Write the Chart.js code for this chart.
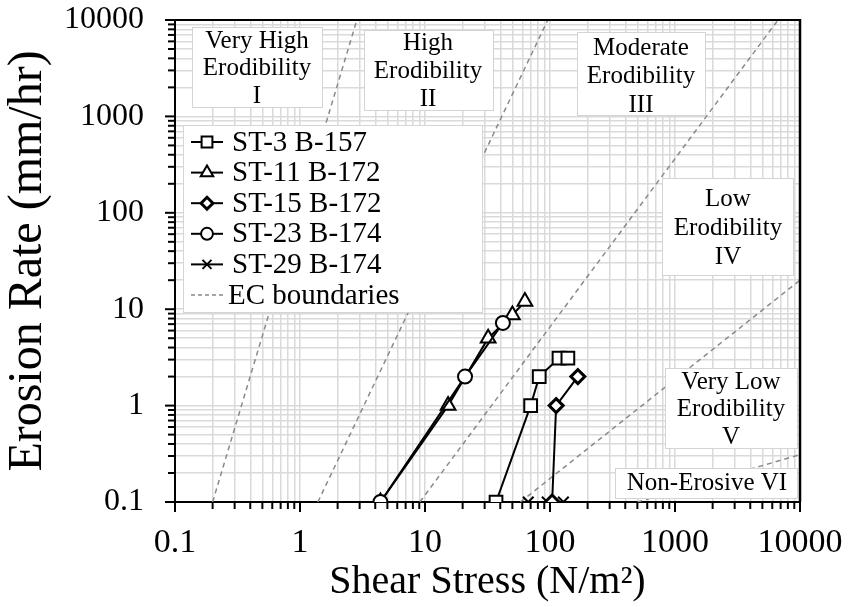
<!DOCTYPE html>
<html>
<head>
<meta charset="utf-8">
<script src="https://cdn.jsdelivr.net/npm/chart.js@4.4.0/dist/chart.umd.min.js"></script>
<style>
  html, body { margin: 0; padding: 0; background: #ffffff; }
  #wrap { width: 848px; height: 607px; }
</style>
</head>
<body>
<div id="wrap"><canvas id="chart" width="848" height="607"></canvas></div>
<script>
// ---- axis decades and their labels ----
const decadeValues = [0.1, 1, 10, 100, 1000, 10000];
const decadeLabels = ['0.1', '1', '10', '100', '1000', '10000'];

// ---- EFA test results: shear stress (N/m2) and erosion rate (mm/hr) ----
const seriesNames = ['ST-3 B-157', 'ST-11 B-172', 'ST-15 B-172', 'ST-23 B-174', 'ST-29 B-174'];
const st3Shear  = [37, 70, 82, 118, 139];
const st3Rate   = [0.1, 1, 2, 3.1, 3.1];
const st11Shear = [4.4, 15.3, 32, 50, 63];
const st11Rate  = [0.1, 1, 5, 8.7, 12];
const st15Shear = [104, 112, 167];
const st15Rate  = [0.1, 1, 2];
const st23Shear = [4.4, 20.9, 42];
const st23Rate  = [0.1, 2, 7.2];
const st29Shear = [67, 95, 128];
const st29Rate  = [0.1, 0.1, 0.1];

// ---- erosion category boundaries (straight lines in log-log space) ----
const boundaryName  = 'EC boundaries';
const boundaryShear = [[0.2, 2.85], [1.39, 96], [9.1, 6670], [58, 10000], [500, 10000]];
const boundaryRate  = [[0.1, 10000], [0.1, 10000], [0.1, 10000], [0.1, 20], [0.1, 0.31]];

// ---- erosion category names ----
const regionTexts = [
  ['Very High', 'Erodibility', 'I'],
  ['High', 'Erodibility', 'II'],
  ['Moderate', 'Erodibility', 'III'],
  ['Low', 'Erodibility', 'IV'],
  ['Very Low', 'Erodibility', 'V'],
  ['Non-Erosive VI']
];

// label boxes: [left, top, right, bottom, centre x, first line y, line step]
const regionBoxes = [
  [192, 27, 322, 107, 257, 41, 27.5],
  [364, 30, 493, 110, 428, 43, 28],
  [577, 32, 705, 115, 641, 48, 28.5],
  [662, 178, 793, 275, 728, 199, 29],
  [665, 368, 797, 448, 731, 382, 27.5],
  [615, 468, 797, 498, 707, 483, 0]
];

const FONT = "'Liberation Serif', 'Times New Roman', serif";
Chart.defaults.font.family = FONT;
Chart.defaults.color = '#000';

function toPoints(xs, ys) { return xs.map((x, i) => ({ x: x, y: ys[i] })); }

function allLogTicks(min, max) {
  const out = [];
  for (let e = Math.round(Math.log10(min)); e <= Math.round(Math.log10(max)); e++) {
    for (let m = 1; m <= 9; m++) {
      const v = parseFloat((m * Math.pow(10, e)).toPrecision(6));
      if (v >= min - 1e-9 && v <= max + 1e-9) out.push(v);
    }
  }
  return out;
}
function isDecade(v) {
  return decadeValues.some(d => Math.abs(Math.log10(d) - Math.log10(v)) < 1e-6);
}
function decadeLabel(v) {
  const i = decadeValues.findIndex(d => Math.abs(Math.log10(d) - Math.log10(v)) < 1e-6);
  return i >= 0 ? decadeLabels[i] : '';
}

const markerStyles = [
  { style: 'rect', radius: 9, width: 2 },
  { style: 'triangle', radius: 8.5, width: 2 },
  { style: 'rectRot', radius: 7, width: 3 },
  { style: 'circle', radius: 7, width: 2 },
  { style: 'crossRot', radius: 7.5, width: 2 }
];
const seriesData = [
  toPoints(st3Shear, st3Rate),
  toPoints(st11Shear, st11Rate),
  toPoints(st15Shear, st15Rate),
  toPoints(st23Shear, st23Rate),
  toPoints(st29Shear, st29Rate)
];
const seriesOrder = [0, 1, 0, -1, 0];

const datasets = seriesData.map((pts, i) => ({
  label: seriesNames[i],
  data: pts,
  showLine: true,
  borderColor: '#000',
  borderWidth: 2,
  backgroundColor: '#fff',
  pointStyle: markerStyles[i].style,
  pointRadius: markerStyles[i].radius,
  pointBorderWidth: markerStyles[i].width,
  pointBorderColor: '#000',
  pointBackgroundColor: '#fff',
  order: seriesOrder[i]
}));
boundaryShear.forEach((xs, i) => {
  datasets.push({
    label: boundaryName,
    data: toPoints(xs, boundaryRate[i]),
    showLine: true,
    borderColor: '#8a8a8a',
    borderWidth: 1.5,
    borderDash: [5, 4],
    pointRadius: 0,
    order: 10
  });
});

function drawMarker(ctx, style, x, y, r) {
  ctx.beginPath();
  if (style === 'rect') {
    const s = Math.SQRT1_2 * r;
    ctx.rect(x - s, y - s, 2 * s, 2 * s);
  } else if (style === 'triangle') {
    const w = r * Math.sqrt(3);
    ctx.moveTo(x, y - r);
    ctx.lineTo(x + w / 2, y + r / 2);
    ctx.lineTo(x - w / 2, y + r / 2);
    ctx.closePath();
  } else if (style === 'rectRot') {
    ctx.moveTo(x, y - r); ctx.lineTo(x + r, y); ctx.lineTo(x, y + r); ctx.lineTo(x - r, y); ctx.closePath();
  } else if (style === 'circle') {
    ctx.arc(x, y, r, 0, Math.PI * 2);
  } else if (style === 'crossRot') {
    const s = Math.SQRT1_2 * r;
    ctx.moveTo(x - s, y - s); ctx.lineTo(x + s, y + s);
    ctx.moveTo(x + s, y - s); ctx.lineTo(x - s, y + s);
    ctx.stroke();
    return;
  }
  ctx.fill();
  ctx.stroke();
}

// boxes with the category names, and the legend, drawn over the grid
const overlayPlugin = {
  id: 'overlays',
  afterDatasetsDraw(chart) {
    const ctx = chart.ctx;
    ctx.save();
    regionBoxes.forEach((b, i) => {
      ctx.fillStyle = '#fff';
      ctx.fillRect(b[0], b[1], b[2] - b[0], b[3] - b[1]);
      ctx.strokeStyle = '#d4d4d4';
      ctx.lineWidth = 1;
      ctx.strokeRect(b[0] + 0.5, b[1] + 0.5, b[2] - b[0], b[3] - b[1]);
      ctx.fillStyle = '#000';
      ctx.font = '25px ' + FONT;
      ctx.textAlign = 'center';
      ctx.textBaseline = 'middle';
      regionTexts[i].forEach((t, k) => ctx.fillText(t, b[4], b[5] + k * b[6]));
    });
    const lg = { left: 183, top: 125, right: 482, bottom: 312, rowY: 142, step: 30.6, lineX0: 191, lineX1: 223, textX: 232 };
    ctx.fillStyle = '#fff';
    ctx.fillRect(lg.left, lg.top, lg.right - lg.left, lg.bottom - lg.top);
    ctx.strokeStyle = '#d4d4d4';
    ctx.lineWidth = 1;
    ctx.strokeRect(lg.left + 0.5, lg.top + 0.5, lg.right - lg.left, lg.bottom - lg.top);
    ctx.font = '29px ' + FONT;
    ctx.textAlign = 'left';
    ctx.textBaseline = 'middle';
    seriesNames.forEach((name, i) => {
      const y = lg.rowY + i * lg.step;
      ctx.strokeStyle = '#000';
      ctx.lineWidth = 2;
      ctx.setLineDash([]);
      ctx.beginPath(); ctx.moveTo(lg.lineX0, y); ctx.lineTo(lg.lineX1, y); ctx.stroke();
      ctx.fillStyle = '#fff';
      ctx.lineWidth = markerStyles[i].width;
      drawMarker(ctx, markerStyles[i].style, (lg.lineX0 + lg.lineX1) / 2, y, markerStyles[i].radius * 0.85);
      ctx.fillStyle = '#000';
      ctx.fillText(name, lg.textX, y + 1);
    });
    const yb = lg.rowY + seriesNames.length * lg.step;
    ctx.strokeStyle = '#8a8a8a';
    ctx.lineWidth = 1.5;
    ctx.setLineDash([4, 3]);
    ctx.beginPath(); ctx.moveTo(lg.lineX0, yb); ctx.lineTo(lg.lineX1 + 2, yb); ctx.stroke();
    ctx.setLineDash([]);
    ctx.fillStyle = '#000';
    ctx.fillText(boundaryName, lg.textX - 4, yb + 1);
    ctx.restore();
  }
};

// plot frame and outward tick marks
const framePlugin = {
  id: 'frame',
  afterDraw(chart) {
    const ctx = chart.ctx;
    const a = chart.chartArea;
    const xs = chart.scales.x, ys = chart.scales.y;
    ctx.save();
    ctx.strokeStyle = '#000';
    ctx.lineWidth = 2;
    ctx.beginPath();
    ctx.moveTo(a.left, a.top); ctx.lineTo(a.right, a.top);
    ctx.stroke();
    ctx.lineWidth = 2.5;
    ctx.beginPath();
    ctx.moveTo(a.right, a.top - 1); ctx.lineTo(a.right, a.bottom);
    ctx.stroke();
    ctx.lineWidth = 2;
    xs.ticks.forEach(t => {
      const px = xs.getPixelForValue(t.value);
      const len = isDecade(t.value) ? 10 : 7;
      ctx.beginPath(); ctx.moveTo(px, a.bottom); ctx.lineTo(px, a.bottom + len); ctx.stroke();
    });
    ys.ticks.forEach(t => {
      const py = ys.getPixelForValue(t.value);
      const len = isDecade(t.value) ? 10 : 7;
      ctx.beginPath(); ctx.moveTo(a.left - len, py); ctx.lineTo(a.left, py); ctx.stroke();
    });
    ctx.restore();
  }
};

const gridOpts = { color: '#dadada', lineWidth: 1.5, drawTicks: false };

new Chart(document.getElementById('chart'), {
  type: 'scatter',
  data: { datasets: datasets },
  options: {
    responsive: false,
    animation: false,
    devicePixelRatio: 1,
    layout: { padding: { top: 20, right: 48, left: 0, bottom: 0 } },
    plugins: { legend: { display: false }, tooltip: { enabled: false } },
    scales: {
      x: {
        type: 'logarithmic',
        position: 'bottom',
        min: 0.1,
        max: 10000,
        afterBuildTicks: s => { s.ticks = allLogTicks(0.1, 10000).map(v => ({ value: v })); },
        afterFit: s => { s.height = 105; s.paddingLeft = 0; s.paddingRight = 0; },
        ticks: { autoSkip: false, maxRotation: 0, padding: 21, font: { size: 34 }, color: '#000', callback: v => decadeLabel(v) },
        grid: gridOpts,
        border: { display: true, color: '#000', width: 2 },
        title: { display: true, text: 'Shear Stress (N/m²)', font: { size: 40 }, color: '#000', padding: { top: 0, bottom: 1 } }
      },
      y: {
        type: 'logarithmic',
        position: 'left',
        min: 0.1,
        max: 10000,
        afterBuildTicks: s => { s.ticks = allLogTicks(0.1, 10000).map(v => ({ value: v })); },
        afterFit: s => { s.width = 175; s.paddingTop = 0; s.paddingBottom = 0; },
        ticks: { autoSkip: false, padding: 31, font: { size: 32 }, color: '#000', callback: v => decadeLabel(v) },
        grid: gridOpts,
        border: { display: true, color: '#000', width: 2 },
        title: { display: true, text: 'Erosion Rate (mm/hr)', font: { size: 48 }, color: '#000', padding: { top: 0, bottom: 0 } }
      }
    }
  },
  plugins: [overlayPlugin, framePlugin]
});
</script>
</body>
</html>
